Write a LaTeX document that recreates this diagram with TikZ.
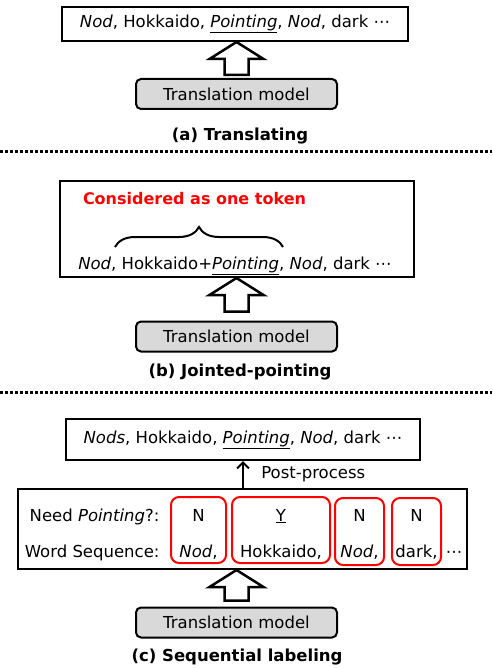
\documentclass[tikz,border=0pt]{standalone}
\usepackage{fontspec}
\setmainfont{DejaVu Sans}
\usetikzlibrary{arrows.meta,decorations.pathreplacing,calc}
\tikzset{every node/.style={font=\fontsize{16.5}{19}\selectfont},
 outbox/.style={draw,line width=2pt,inner sep=0pt},
 modelbox/.style={draw,line width=2pt,rounded corners=5pt,fill=black!15,
   minimum width=201pt,minimum height=30pt,inner sep=0pt},
 caption/.style={font=\fontsize{16.5}{19}\selectfont\bfseries},
 tagbox/.style={draw=red,line width=2pt,rounded corners=8pt,inner sep=0pt},
 separator/.style={line width=3pt,dash pattern=on 3pt off 2pt},
 blockarrow/.style={draw,line width=2.5pt,fill=white,line join=miter},
 }
\newcommand{\liftarrow}[3]{%
  \coordinate (tip) at (#2.south -| #1.north);
  \coordinate (tail) at ($(#1.north)+(0,-#3)$);
  \draw[blockarrow] (tip) -- ++(27,17) -- ++(-15,0) -- ($(tail)+(12,0)$)
    -- ($(tail)+(-12,0)$) -- ($(tip)+(-12,17)$) -- ++(-15,0) -- cycle;}

\begin{document}
\begin{tikzpicture}[x=1pt,y=-1pt]
\useasboundingbox (0,0) rectangle (492,668);
% (a)
\node[outbox,minimum width=346pt,minimum height=34pt] (outA) at (235,24)
  {\textit{Nod}, Hokkaido, \underline{\textit{Pointing}}, \textit{Nod}, dark ⋯};
\node[modelbox] (tmA) at (236.5,94) {Translation model};
\liftarrow{tmA}{outA}{3}
\node[caption] (capA) at (240,136) {(a) Translating};
\draw[separator] (0,152) -- (492,152);
% (b)
\node[outbox,minimum width=354pt,minimum height=96pt] (outB) at (237,229) {};
\node[font=\fontsize{16}{19}\selectfont\bfseries,text=red] (noteB) at (194.5,199)
  {Considered as one token};
\node[anchor=base] (seqB) at (235,269)
  {\textit{Nod}, Hokkaido+\underline{\textit{Pointing}}, \textit{Nod}, dark ⋯};
\coordinate (braceL) at (115,247);
\coordinate (braceR) at (283,247);
\draw[decorate,decoration={brace,amplitude=20pt},line width=2pt] (braceL) -- (braceR);
\node[modelbox] (tmB) at (236.5,336.5) {Translation model};
\liftarrow{tmB}{outB}{9}
\node[caption] (capB) at (240,372) {(b) Jointed-pointing};
\draw[separator] (0,392) -- (492,392);
% (c)
\node[outbox,minimum width=354pt,minimum height=41pt] (outC) at (243,439.5)
  {\textit{Nods}, Hokkaido, \underline{\textit{Pointing}}, \textit{Nod}, dark ⋯};
\node[outbox,minimum width=449pt,minimum height=80pt] (midC) at (242.5,529) {};
\draw[-{Straight Barb[length=6pt,width=12pt]},line width=2pt] (midC.north -| outC.south)
  -- node[anchor=west,xshift=14pt] (ppC) {Post-process} (outC.south);
\node[anchor=base east] (needL) at (163,521) {Need \textit{Pointing}?:};
\node[anchor=base east] (wordL) at (163,557) {Word Sequence:};
\node[tagbox,minimum width=55pt,minimum height=66pt] (r1) at (198.5,530) {};
\node[tagbox,minimum width=98pt,minimum height=66pt] (r2) at (281,530) {};
\node[tagbox,minimum width=49pt,minimum height=67pt] (r3) at (359.5,531.5) {};
\node[tagbox,minimum width=49pt,minimum height=67pt] (r4) at (416.5,531.5) {};
\node[anchor=base] (t1) at (r1 |- needL.base) {N};
\node[anchor=base] (t2) at (r2 |- needL.base) {\underline{Y}};
\node[anchor=base] (t3) at (r3 |- needL.base) {N};
\node[anchor=base] (t4) at (r4 |- needL.base) {N};
\node[anchor=base] (w1) at (r1 |- wordL.base) {\textit{Nod},};
\node[anchor=base] (w2) at (r2 |- wordL.base) {Hokkaido,};
\node[anchor=base] (w3) at (r3 |- wordL.base) {\textit{Nod},};
\node[anchor=base] (w4) at (r4 |- wordL.base) {dark,};
\node[anchor=base] (wdots) at (454,557) {⋯};
\node[modelbox] (tmC) at (236.5,622.5) {Translation model};
\liftarrow{tmC}{midC}{6}
\node[caption] (capC) at (237,657) {(c) Sequential labeling};
\end{tikzpicture}
\end{document}
